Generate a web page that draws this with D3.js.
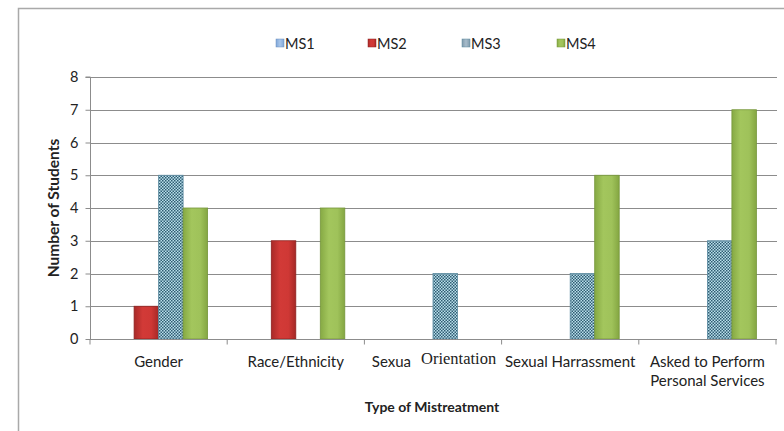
<!DOCTYPE html>
<html><head><meta charset="utf-8">
<script src="https://cdn.jsdelivr.net/npm/d3@7/dist/d3.min.js"></script>
<style>
html,body{margin:0;padding:0;background:#fff;}
svg{display:block;}
text{font-family:Lato,"Open Sans",sans-serif;fill:#222;}
</style></head>
<body><svg id="c" width="784" height="431"></svg>
<script>
const categories = ["Gender","Race/Ethnicity","Sexual Orientation","Sexual Harrassment","Asked to Perform Personal Services"];
const series = ["MS1","MS2","MS3","MS4"];
const ms1 = [0,0,0,0,0];
const ms2 = [1,3,0,0,0];
const ms3 = [5,0,2,2,3];
const ms4 = [4,4,0,5,7];
const yTicks = [0,1,2,3,4,5,6,7,8];
const yTitle = "Number of Students";
const xTitle = "Type of Mistreatment";

const values = {MS1: ms1, MS2: ms2, MS3: ms3, MS4: ms4};
const svg = d3.select("#c");
const defs = svg.append("defs");

function hgrad(id, stops){
  const g = defs.append("linearGradient").attr("id",id).attr("x1","0").attr("x2","1").attr("y1","0").attr("y2","0");
  stops.forEach(([o,c])=>g.append("stop").attr("offset",o).attr("stop-color",c));
}
hgrad("gRed", [[0,"#a82a28"],[0.35,"#d23a37"],[0.7,"#cf3835"],[1,"#a52826"]]);
hgrad("gGreen", [[0,"#86a944"],[0.35,"#a3c65d"],[0.7,"#9fc25a"],[1,"#84a642"]]);
hgrad("gBlue", [[0,"#7ea6d8"],[0.5,"#a9c6ea"],[1,"#7ea6d8"]]);
hgrad("gGrey", [[0,"#7f9aab"],[0.5,"#a8bccb"],[1,"#7f9aab"]]);
const pat = defs.append("pattern").attr("id","pCheck").attr("patternUnits","userSpaceOnUse").attr("width",3).attr("height",3);
pat.append("rect").attr("width",3).attr("height",3).attr("fill","#b9dfeb");
pat.append("rect").attr("x",0).attr("y",0).attr("width",1.5).attr("height",1.5).attr("fill","#2f5c72");
pat.append("rect").attr("x",1.5).attr("y",1.5).attr("width",1.5).attr("height",1.5).attr("fill","#2f5c72");

const fills = {MS1:"url(#gBlue)", MS2:"url(#gRed)", MS3:"url(#pCheck)", MS4:"url(#gGreen)"};
const strokes = {MS1:"#6b8fbf", MS2:"#8e2220", MS3:"#5b8aa0", MS4:"#76963b"};
const legendFills = {MS1:"url(#gBlue)", MS2:"url(#gRed)", MS3:"url(#gGrey)", MS4:"url(#gGreen)"};

// outer frame
svg.append("path").attr("d","M18.5,431 V8.5 H784").attr("fill","none").attr("stroke","#a9a9a9").attr("stroke-width",1.5);

const x0 = d3.scaleBand().domain(categories).range([90,776]).paddingInner(0).paddingOuter(0);
const x1 = d3.scaleBand().domain(series).range([0,x0.bandwidth()]).paddingInner(0).paddingOuter(0.8);
const y = d3.scaleLinear().domain([0,8]).range([339,77]);

// gridlines
svg.append("g").selectAll("line").data(yTicks.filter(d=>d>0)).join("line")
  .attr("x1",90).attr("x2",777).attr("y1",d=>Math.round(y(d))+0.5).attr("y2",d=>Math.round(y(d))+0.5)
  .attr("stroke","#8c8c8c").attr("stroke-width",1);

// bars
const rows = [];
categories.forEach((c,i)=>series.forEach(s=>rows.push({c,s,v:values[s][i]})));
svg.append("g").selectAll("rect").data(rows.filter(d=>d.v>0)).join("rect")
  .attr("x",d=>x0(d.c)+x1(d.s))
  .attr("y",d=>y(d.v))
  .attr("width",x1.bandwidth())
  .attr("height",d=>y(0)-y(d.v))
  .attr("fill",d=>fills[d.s])
  .attr("stroke",d=>strokes[d.s]).attr("stroke-width",0.8);

// y axis
const yAxis = d3.axisLeft(y).tickValues(yTicks).tickSize(5).tickPadding(7).tickFormat(d3.format("d"));
const ya = svg.append("g").attr("transform","translate(90.5,0)").call(yAxis);
ya.select(".domain").attr("stroke","#8c8c8c").attr("d","M-5,"+y(8)+"H0V"+y(0));
ya.selectAll(".tick line").attr("stroke","#8c8c8c");
ya.selectAll(".tick text").attr("font-size",14.5).attr("font-family","Lato, sans-serif").attr("fill","#222");

// x axis
const xa = svg.append("g").attr("transform","translate(0,"+(Math.round(y(0))+0.5)+")");
xa.append("line").attr("x1",90).attr("x2",777).attr("stroke","#8c8c8c");
const bounds = categories.map(c=>x0(c)).concat([x0.range()[1]]);
xa.selectAll(".tk").data(bounds).join("line").attr("class","tk")
  .attr("x1",d=>d).attr("x2",d=>d).attr("y1",0).attr("y2",5).attr("stroke","#8c8c8c");

// x labels
const lbl = svg.append("g").attr("font-size",15).attr("text-anchor","middle");
categories.forEach(c=>{
  const cx = x0(c)+x0.bandwidth()/2;
  if(c==="Sexual Orientation"){
    const t = lbl.append("text").attr("x",cx+1).attr("y",367);
    t.append("tspan").text("Sexua");
    t.append("tspan").attr("dx",10).attr("dy",-3).attr("font-family","'Liberation Serif',serif").attr("font-size",16.5).text("Orientation");
  } else if(c==="Asked to Perform Personal Services"){
    const t = lbl.append("text").attr("x",cx).attr("y",367);
    t.append("tspan").attr("x",cx).text("Asked to Perform");
    t.append("tspan").attr("x",cx).attr("dy",19).text("Personal Services");
  } else {
    lbl.append("text").attr("x",cx).attr("y",367).text(c);
  }
});

// axis titles
svg.append("text").attr("x",432).attr("y",412).attr("text-anchor","middle").attr("font-size",14).attr("font-weight","bold").text(xTitle);
svg.append("text").attr("transform","translate(59,208) rotate(-90)").attr("text-anchor","middle").attr("font-size",15.5).attr("font-weight","bold").text(yTitle);

// legend
const legX = {MS1:276, MS2:368, MS3:462, MS4:557};
const lg = svg.append("g");
series.forEach(s=>{
  lg.append("rect").attr("x",legX[s]).attr("y",39).attr("width",8).attr("height",8).attr("fill",legendFills[s]).attr("stroke",strokes[s]).attr("stroke-width",0.5);
  lg.append("text").attr("x",legX[s]+9).attr("y",49).attr("font-size",14.5).text(s);
});
</script></body></html>
